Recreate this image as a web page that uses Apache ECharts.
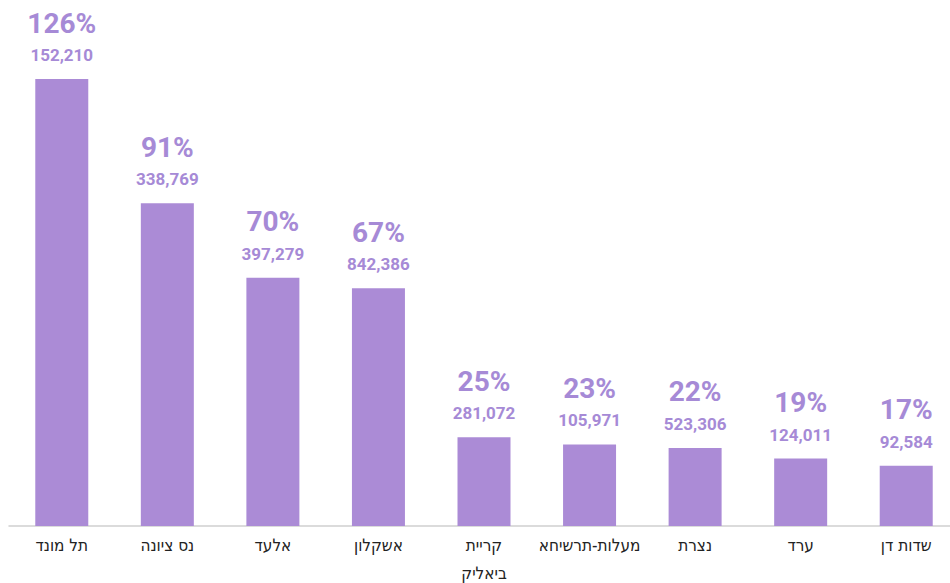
<!DOCTYPE html>
<html>
<head>
<meta charset="utf-8">
<script src="https://cdn.jsdelivr.net/npm/echarts@6/dist/echarts.min.js"></script>
<style>
    html, body {margin: 0; padding: 0; background: #fff;}
    #chart {width: 950px; height: 583px;}
</style>
</head>
<body>
<div id="chart"></div>
<script>
const cities = ['תל מונד', 'נס ציונה', 'אלעד', 'אשקלון', 'קריית\nביאליק', 'מעלות-תרשיחא', 'נצרת', 'ערד', 'שדות דן']
const percents = [126, 91, 70, 67, 25, 23, 22, 19, 17]
const counts = ['152,210', '338,769', '397,279', '842,386', '281,072', '105,971', '523,306', '124,011', '92,584']

const labelFont = '"DejaVu Sans Condensed", "DejaVu Sans", sans-serif'
const numFont = 'Roboto, sans-serif'
// svg renderer so the hebrew gets proper bidi ordering
const chart = echarts.init(document.getElementById('chart'), null, {renderer: 'svg'})
chart.setOption({
    animation: false,
    // the original plot runs a bit past the right edge
    grid: {left: 9, width: 950, top: 79, bottom: 57, outerBoundsMode: 'none', containLabel: false},
    xAxis: {
        type: 'category',
        data: cities,
        axisLine: {lineStyle: {color: '#cfcfcf', width: 1.5}},
        axisTick: {show: false},
        axisLabel: {
            color: '#222',
            fontSize: 17,
            fontFamily: labelFont,
            lineHeight: 28,
            margin: 5,
            interval: 0
        }
    },
    yAxis: {
        type: 'value',
        min: 0,
        max: 126,
        show: false,
        splitLine: {show: false}
    },
    series: [{
        type: 'bar',
        data: percents,
        barWidth: 53,
        itemStyle: {color: '#ab8bd6'},
        label: {
            show: true,
            position: 'top',
            distance: 12,
            formatter: (p) => '{p|' + p.value + '%}\n{v|' + counts[p.dataIndex] + '}',
            rich: {
                p: {fontSize: 28, fontWeight: 'bold', color: '#a68ad6', lineHeight: 40, fontFamily: numFont},
                v: {fontSize: 17, fontWeight: 'bold', color: '#a68ad6', lineHeight: 24, fontFamily: numFont}
            }
        }
    }]
})
</script>
</body>
</html>
